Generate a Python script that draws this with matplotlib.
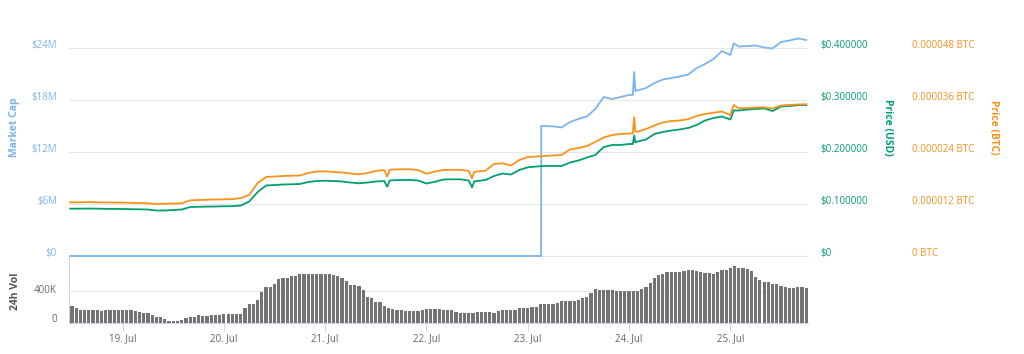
import matplotlib
matplotlib.use("Agg")
import matplotlib.pyplot as plt
import matplotlib.transforms as mtransforms
import numpy as np

# ---------------- data (hours since 18 Jul 00:00) ----------------
price_hours = [11.6, 14, 16, 18, 20, 22, 24, 26, 28, 30, 32, 34, 36, 38, 40, 42, 44, 46, 48, 50,
               52, 54, 56, 58, 60, 62, 64, 66, 68, 70, 72, 74, 76, 78, 80, 82, 84, 86, 86.7, 87.3,
               88, 90, 92, 94, 96, 98, 100, 102, 104, 106, 106.8, 107.3, 108, 110, 112, 114, 116,
               118, 120, 122, 124, 126, 128, 130, 132, 134, 136, 138, 140, 142, 144, 144.9, 145.2,
               145.5, 146, 148, 150, 152, 154, 156, 158, 160, 162, 164, 166, 168, 168.8, 170, 172,
               174, 176, 178, 180, 182, 184, 186]

price_usd = [0.0910, 0.0910, 0.0913, 0.0910, 0.0906, 0.0906, 0.0904, 0.0900, 0.0898, 0.0894,
             0.0875, 0.0875, 0.0885, 0.0894, 0.0942, 0.0946, 0.0950, 0.0952, 0.0956, 0.0958,
             0.0971, 0.1048, 0.1231, 0.1356, 0.1365, 0.1375, 0.1379, 0.1385, 0.1423, 0.1442,
             0.1448, 0.1442, 0.1433, 0.1413, 0.1398, 0.1413, 0.1433, 0.1442, 0.1333, 0.1452,
             0.1456, 0.1462, 0.1462, 0.1452, 0.1394, 0.1427, 0.1471, 0.1475, 0.1475, 0.1452,
             0.1321, 0.1433, 0.1442, 0.1462, 0.1538, 0.1587, 0.1567, 0.1654, 0.1706, 0.1721,
             0.1731, 0.1731, 0.1731, 0.1798, 0.1837, 0.1894, 0.1942, 0.2096, 0.2135, 0.2135,
             0.2154, 0.2154, 0.2317, 0.2183, 0.2202, 0.2240, 0.2346, 0.2385, 0.2413, 0.2433,
             0.2462, 0.2519, 0.2606, 0.2654, 0.2683, 0.2625, 0.2798, 0.2798, 0.2817, 0.2827,
             0.2840, 0.2788, 0.2875, 0.2885, 0.2900, 0.2904]

price_btc = [12.39e-6, 12.39e-6, 12.46e-6, 12.39e-6, 12.35e-6, 12.35e-6, 12.32e-6, 12.28e-6, 12.23e-6, 12.16e-6,
             12.00e-6, 12.05e-6, 12.12e-6, 12.16e-6, 12.85e-6, 12.92e-6, 12.99e-6, 13.04e-6, 13.08e-6, 13.11e-6,
             13.38e-6, 14.08e-6, 16.85e-6, 18.23e-6, 18.35e-6, 18.46e-6, 18.53e-6, 18.58e-6, 19.15e-6, 19.50e-6,
             19.55e-6, 19.38e-6, 19.27e-6, 19.04e-6, 18.85e-6, 19.15e-6, 19.62e-6, 19.85e-6, 18.30e-6, 19.89e-6,
             19.96e-6, 20.01e-6, 20.01e-6, 19.85e-6, 18.97e-6, 19.50e-6, 19.85e-6, 19.89e-6, 19.89e-6, 19.62e-6,
             17.93e-6, 19.38e-6, 19.50e-6, 19.68e-6, 21.23e-6, 21.39e-6, 20.88e-6, 22.15e-6, 22.85e-6, 22.96e-6,
             23.08e-6, 23.19e-6, 23.31e-6, 24.58e-6, 24.92e-6, 25.38e-6, 26.31e-6, 27.35e-6, 27.92e-6, 28.15e-6,
             28.27e-6, 28.27e-6, 32.01e-6, 28.73e-6, 28.68e-6, 29.31e-6, 30.12e-6, 30.81e-6, 31.15e-6, 31.27e-6,
             31.55e-6, 32.31e-6, 32.77e-6, 33.07e-6, 33.35e-6, 32.54e-6, 34.85e-6, 34.08e-6, 34.15e-6, 34.27e-6,
             34.32e-6, 34.04e-6, 34.73e-6, 34.85e-6, 34.96e-6, 35.01e-6]

mcap_hours = [11.6, 123.15, 123.2, 124, 126, 128, 130, 132, 134, 136, 138, 140, 142, 144, 144.9, 145.2,
              145.5, 146, 148, 150, 152, 154, 156, 158, 160, 162, 164, 166, 168, 168.8, 170, 172, 174,
              176, 178, 180, 182, 184, 186]
market_cap = [0, 0, 15.00e6, 15.00e6, 14.96e6, 14.83e6, 15.46e6, 15.81e6, 16.10e6, 16.96e6, 18.35e6,
              18.11e6, 18.35e6, 18.58e6, 18.58e6, 21.23e6, 19.04e6, 19.10e6, 19.38e6, 19.96e6, 20.36e6,
              20.54e6, 20.71e6, 20.94e6, 21.69e6, 22.15e6, 22.73e6, 23.65e6, 23.19e6, 24.54e6, 24.17e6,
              24.23e6, 24.29e6, 24.06e6, 23.94e6, 24.69e6, 24.86e6, 25.10e6, 24.92e6]

# hourly 24h volume (thousands USD), first bar at hour 12 of 18 Jul
volume_k = [218, 193, 166, 164, 164, 163, 163, 151, 162, 163, 164, 164, 164, 164, 163, 155, 135, 130, 128, 101,
            82, 78, 50, 26, 24, 27, 38, 59, 74, 78, 97, 85, 84, 96, 97, 98, 108, 110, 117, 118,
            119, 185, 240, 246, 290, 394, 455, 460, 488, 560, 565, 571, 595, 598, 612, 614, 615, 614, 614, 614,
            621, 618, 604, 590, 571, 529, 480, 478, 466, 416, 331, 311, 268, 268, 218, 193, 176, 170, 164, 151,
            151, 151, 151, 164, 172, 172, 172, 172, 170, 164, 164, 143, 122, 122, 130, 130, 135, 135, 135, 135,
            122, 151, 160, 164, 164, 164, 185, 185, 185, 206, 206, 240, 240, 240, 240, 248, 277, 277, 277, 277,
            290, 311, 331, 374, 424, 412, 412, 412, 412, 408, 403, 403, 403, 403, 410, 428, 457, 500, 571, 605,
            620, 639, 639, 639, 639, 655, 668, 668, 655, 640, 626, 626, 614, 640, 668, 668, 697, 722, 700, 689,
            680, 655, 583, 540, 520, 520, 488, 488, 470, 457, 437, 437, 457, 457, 445]
volume_first_hour = 12

day_ticks = [24, 48, 72, 96, 120, 144, 168]
day_labels = ['19. Jul', '20. Jul', '21. Jul', '22. Jul', '23. Jul', '24. Jul', '25. Jul']

mcap_ticks = [0, 6e6, 12e6, 18e6, 24e6]
mcap_labels = ['$0', '$6M', '$12M', '$18M', '$24M']
usd_ticks = [0, 0.1, 0.2, 0.3, 0.4]
usd_labels = ['$0', '$0.100000', '$0.200000', '$0.300000', '$0.400000']
btc_ticks = [0, 12e-6, 24e-6, 36e-6, 48e-6]
btc_labels = ['0 BTC', '0.000012 BTC', '0.000024 BTC', '0.000036 BTC', '0.000048 BTC']
vol_ticks = [0, 400e3]
vol_labels = ['0', '400K']

# ---------------- styling ----------------
C_MCAP = '#7cb5ec'
C_USD = '#009e73'
C_BTC = '#f7931a'
C_VOL = '#737373'
C_GRID = '#e6e6e6'
C_AXIS = '#ccd6eb'
C_TXT = '#666666'

plt.rcParams['font.family'] = ['Open Sans', 'DejaVu Sans']
W, H = 1024, 354
fig = plt.figure(figsize=(W / 100, H / 100), dpi=100)

def fx(px):
    return px / W

def fy(py):
    return 1 - py / H

L, R = 69, 808
MAIN_T, MAIN_B = 20, 256
VOL_T, VOL_B = 257, 323

ax = fig.add_axes([fx(L), fy(MAIN_B), fx(R - L), (MAIN_B - MAIN_T) / H])
axv = fig.add_axes([fx(L), fy(VOL_B), fx(R - L), (VOL_B - VOL_T) / H], sharex=ax)
ax_usd = ax.twinx()
ax_btc = ax.twinx()

xlim = (11.3, 186.4)
ax.set_xlim(*xlim)

px_per_unit_mcap = 52 / 6e6
ax.set_ylim(0, (MAIN_B - MAIN_T) / px_per_unit_mcap)
ax_usd.set_ylim(0, (MAIN_B - MAIN_T) / 520.0)
ax_btc.set_ylim(0, (MAIN_B - MAIN_T) * 0.048 / 208 / 1000)

for a in (ax, ax_usd, ax_btc):
    for s in a.spines.values():
        s.set_visible(False)
    a.tick_params(axis='x', which='both', bottom=False, labelbottom=False, top=False)

ax.set_yticks(mcap_ticks)
ax.set_yticklabels(mcap_labels)
ax.grid(axis='y', color=C_GRID, lw=0.75)
ax.set_axisbelow(True)
ax.tick_params(axis='y', length=0, pad=8.6, labelsize=7, labelcolor=C_MCAP)
# zero gridline drawn unclipped so it is fully visible at the panel edge
ax.axhline(0, color=C_GRID, lw=0.9, clip_on=False, zorder=1)

ax_usd.set_yticks(usd_ticks)
ax_usd.set_yticklabels(usd_labels)
ax_usd.tick_params(axis='y', length=0, pad=8.6, labelsize=7, labelcolor=C_USD)
for lab in ax_usd.get_yticklabels():
    lab.set_horizontalalignment('left')

ax_btc.set_yticks(btc_ticks)
ax_btc.set_yticklabels(btc_labels)
ax_btc.tick_params(axis='y', length=0, pad=74.9, labelsize=7, labelcolor=C_BTC)
for lab in ax_btc.get_yticklabels():
    lab.set_horizontalalignment('left')

# lines
ax.plot(mcap_hours, market_cap, color=C_MCAP, lw=1.3, zorder=3, clip_on=False)
ax_usd.plot(price_hours, price_usd, color=C_USD, lw=1.3, zorder=3)
ax_btc.plot(price_hours, price_btc, color=C_BTC, lw=1.3, zorder=3)

# volume
vol_x = volume_first_hour + np.arange(len(volume_k))
axv.bar(vol_x, np.array(volume_k) * 1000, width=0.76, color=C_VOL, linewidth=0, zorder=2)
axv.set_ylim(0, (VOL_B - VOL_T) / 31.7 * 400e3)
axv.set_yticks(vol_ticks)
axv.set_yticklabels(vol_labels)
axv.grid(axis='y', color=C_GRID, lw=0.75)
axv.set_axisbelow(True)
axv.tick_params(axis='y', length=0, pad=8.6, labelsize=7, labelcolor=C_TXT)
axv.set_xticks(day_ticks)
axv.set_xticklabels(day_labels)
axv.tick_params(axis='x', length=5.8, width=0.75, color=C_AXIS, pad=1.5, labelsize=7, labelcolor=C_TXT)
for side in ('top', 'right'):
    axv.spines[side].set_visible(False)
axv.spines['bottom'].set_color(C_AXIS)
axv.spines['left'].set_color(C_AXIS)
axv.spines['bottom'].set_linewidth(0.75)
axv.spines['left'].set_linewidth(0.75)
axv.set_xlim(*xlim)

# shift y tick labels up slightly (Highcharts style)
def shift(axis_obj, px):
    off = mtransforms.ScaledTranslation(0, px / 100, fig.dpi_scale_trans)
    for lab in axis_obj.get_yticklabels():
        lab.set_transform(lab.get_transform() + off)

shift(ax, 4)
shift(ax_usd, 4)
shift(ax_btc, 4)
labs = axv.get_yticklabels()
off0 = mtransforms.ScaledTranslation(0, 5 / 100, fig.dpi_scale_trans)
off1 = mtransforms.ScaledTranslation(0, 2.5 / 100, fig.dpi_scale_trans)
labs[0].set_transform(labs[0].get_transform() + off0)
labs[1].set_transform(labs[1].get_transform() + off1)

# axis titles
fig.text(fx(15), fy(127), 'Market Cap', rotation=90, color=C_MCAP, fontsize=7.5,
         fontweight='bold', ha='center', va='center')
fig.text(fx(887), fy(127), 'Price (USD)', rotation=270, color=C_USD, fontsize=7.5,
         fontweight='bold', ha='center', va='center')
fig.text(fx(994), fy(127), 'Price (BTC)', rotation=270, color=C_BTC, fontsize=7.5,
         fontweight='bold', ha='center', va='center')
fig.text(fx(15), fy(291), '24h Vol', rotation=90, color='#555555', fontsize=7.5,
         fontweight='bold', ha='center', va='center')

fig.savefig('out.png', dpi=100, facecolor='white')
